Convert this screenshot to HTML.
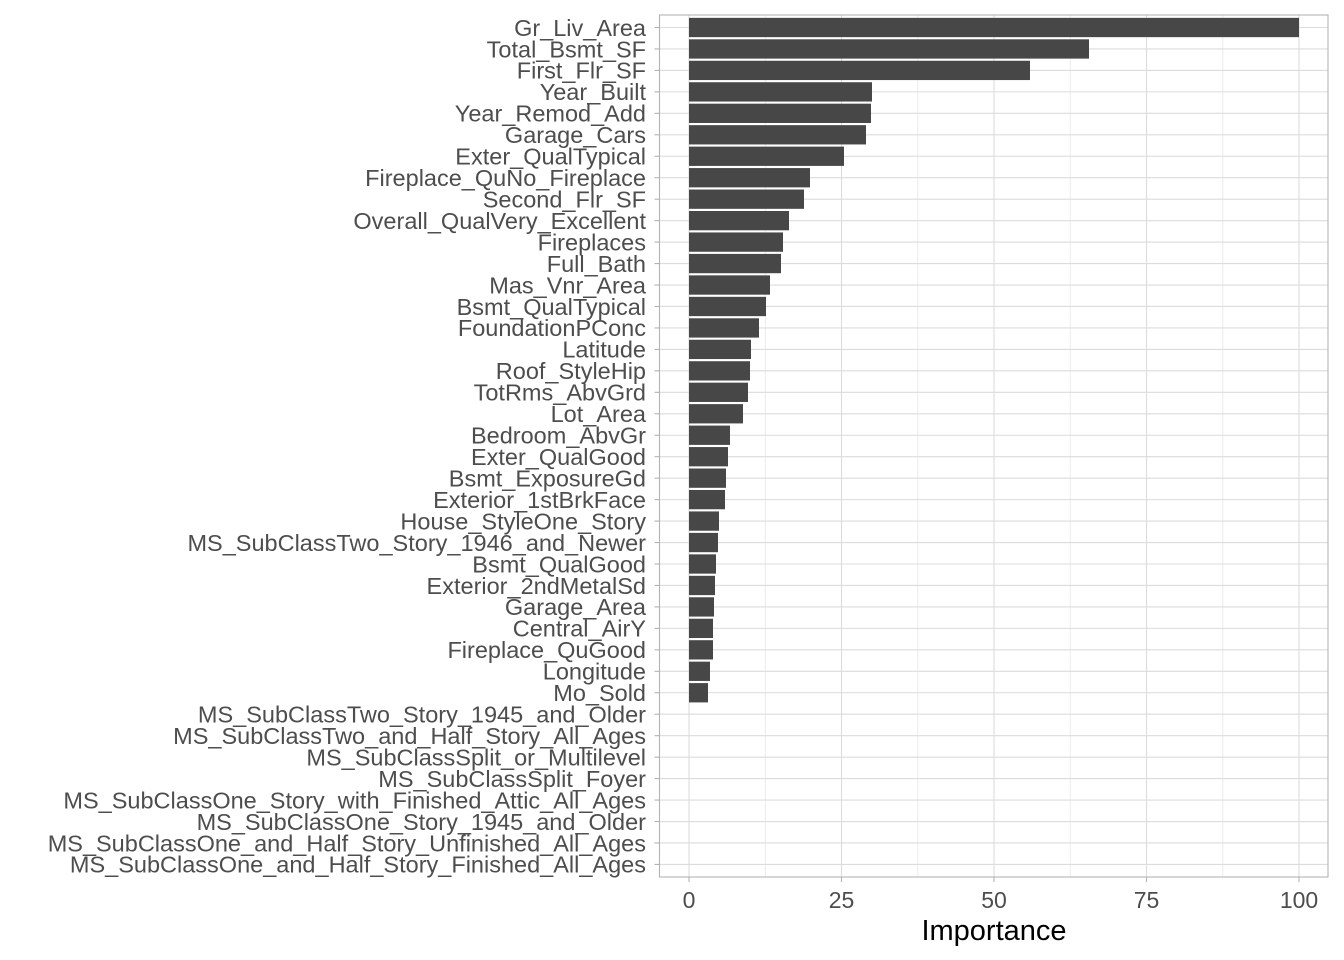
<!DOCTYPE html>
<html><head><meta charset="utf-8"><style>
html,body{margin:0;padding:0;background:#fff}
svg{display:block}
text{font-family:"Liberation Sans",Arial,sans-serif}
</style></head><body>
<svg width="1344" height="960" xmlns="http://www.w3.org/2000/svg">
<rect x="659.5" y="15" width="668.5" height="862" fill="#fff"/>
<g stroke="#ebebeb" stroke-width="1">
<line x1="765.3" y1="15" x2="765.3" y2="877"/><line x1="917.8" y1="15" x2="917.8" y2="877"/><line x1="1070.3" y1="15" x2="1070.3" y2="877"/><line x1="1222.8" y1="15" x2="1222.8" y2="877"/>
</g>
<g stroke="#dcdcdc" stroke-width="1.1">
<line x1="689" y1="15" x2="689" y2="877"/><line x1="841.5" y1="15" x2="841.5" y2="877"/><line x1="994" y1="15" x2="994" y2="877"/><line x1="1146.5" y1="15" x2="1146.5" y2="877"/><line x1="1299" y1="15" x2="1299" y2="877"/>
</g>
<g stroke="#dcdcdc" stroke-width="1.1">
<line x1="659.5" x2="1328" y1="27.5" y2="27.5"/><line x1="659.5" x2="1328" y1="48.96" y2="48.96"/><line x1="659.5" x2="1328" y1="70.42" y2="70.42"/><line x1="659.5" x2="1328" y1="91.88" y2="91.88"/><line x1="659.5" x2="1328" y1="113.34" y2="113.34"/><line x1="659.5" x2="1328" y1="134.8" y2="134.8"/><line x1="659.5" x2="1328" y1="156.26" y2="156.26"/><line x1="659.5" x2="1328" y1="177.72" y2="177.72"/><line x1="659.5" x2="1328" y1="199.18" y2="199.18"/><line x1="659.5" x2="1328" y1="220.64" y2="220.64"/><line x1="659.5" x2="1328" y1="242.1" y2="242.1"/><line x1="659.5" x2="1328" y1="263.56" y2="263.56"/><line x1="659.5" x2="1328" y1="285.02" y2="285.02"/><line x1="659.5" x2="1328" y1="306.48" y2="306.48"/><line x1="659.5" x2="1328" y1="327.94" y2="327.94"/><line x1="659.5" x2="1328" y1="349.4" y2="349.4"/><line x1="659.5" x2="1328" y1="370.86" y2="370.86"/><line x1="659.5" x2="1328" y1="392.32" y2="392.32"/><line x1="659.5" x2="1328" y1="413.78" y2="413.78"/><line x1="659.5" x2="1328" y1="435.24" y2="435.24"/><line x1="659.5" x2="1328" y1="456.7" y2="456.7"/><line x1="659.5" x2="1328" y1="478.16" y2="478.16"/><line x1="659.5" x2="1328" y1="499.62" y2="499.62"/><line x1="659.5" x2="1328" y1="521.08" y2="521.08"/><line x1="659.5" x2="1328" y1="542.54" y2="542.54"/><line x1="659.5" x2="1328" y1="564" y2="564"/><line x1="659.5" x2="1328" y1="585.46" y2="585.46"/><line x1="659.5" x2="1328" y1="606.92" y2="606.92"/><line x1="659.5" x2="1328" y1="628.38" y2="628.38"/><line x1="659.5" x2="1328" y1="649.84" y2="649.84"/><line x1="659.5" x2="1328" y1="671.3" y2="671.3"/><line x1="659.5" x2="1328" y1="692.76" y2="692.76"/><line x1="659.5" x2="1328" y1="714.22" y2="714.22"/><line x1="659.5" x2="1328" y1="735.68" y2="735.68"/><line x1="659.5" x2="1328" y1="757.14" y2="757.14"/><line x1="659.5" x2="1328" y1="778.6" y2="778.6"/><line x1="659.5" x2="1328" y1="800.06" y2="800.06"/><line x1="659.5" x2="1328" y1="821.52" y2="821.52"/><line x1="659.5" x2="1328" y1="842.98" y2="842.98"/><line x1="659.5" x2="1328" y1="864.44" y2="864.44"/>
</g>
<g fill="#474747">
<rect x="689" y="17.85" width="610" height="19.3"/>
<rect x="689" y="39.31" width="400" height="19.3"/>
<rect x="689" y="60.77" width="341" height="19.3"/>
<rect x="689" y="82.23" width="183" height="19.3"/>
<rect x="689" y="103.69" width="182" height="19.3"/>
<rect x="689" y="125.15" width="177" height="19.3"/>
<rect x="689" y="146.61" width="155" height="19.3"/>
<rect x="689" y="168.07" width="121" height="19.3"/>
<rect x="689" y="189.53" width="115" height="19.3"/>
<rect x="689" y="210.99" width="100" height="19.3"/>
<rect x="689" y="232.45" width="94" height="19.3"/>
<rect x="689" y="253.91" width="92" height="19.3"/>
<rect x="689" y="275.37" width="81" height="19.3"/>
<rect x="689" y="296.83" width="77" height="19.3"/>
<rect x="689" y="318.29" width="70" height="19.3"/>
<rect x="689" y="339.75" width="62" height="19.3"/>
<rect x="689" y="361.21" width="61" height="19.3"/>
<rect x="689" y="382.67" width="59" height="19.3"/>
<rect x="689" y="404.13" width="54" height="19.3"/>
<rect x="689" y="425.59" width="41" height="19.3"/>
<rect x="689" y="447.05" width="39" height="19.3"/>
<rect x="689" y="468.51" width="37" height="19.3"/>
<rect x="689" y="489.97" width="36" height="19.3"/>
<rect x="689" y="511.43" width="30" height="19.3"/>
<rect x="689" y="532.89" width="29" height="19.3"/>
<rect x="689" y="554.35" width="27" height="19.3"/>
<rect x="689" y="575.81" width="26" height="19.3"/>
<rect x="689" y="597.27" width="25" height="19.3"/>
<rect x="689" y="618.73" width="24" height="19.3"/>
<rect x="689" y="640.19" width="24" height="19.3"/>
<rect x="689" y="661.65" width="21" height="19.3"/>
<rect x="689" y="683.11" width="19" height="19.3"/>
</g>
<rect x="659.5" y="15" width="668.5" height="862" fill="none" stroke="#b3b3b3" stroke-width="1.1"/>
<g stroke="#b3b3b3" stroke-width="1.1">
<line x1="689" y1="877" x2="689" y2="882"/><line x1="841.5" y1="877" x2="841.5" y2="882"/><line x1="994" y1="877" x2="994" y2="882"/><line x1="1146.5" y1="877" x2="1146.5" y2="882"/><line x1="1299" y1="877" x2="1299" y2="882"/>
</g>
<g stroke="#b3b3b3" stroke-width="1.1">
<line x1="654.5" x2="659.5" y1="27.5" y2="27.5"/><line x1="654.5" x2="659.5" y1="48.96" y2="48.96"/><line x1="654.5" x2="659.5" y1="70.42" y2="70.42"/><line x1="654.5" x2="659.5" y1="91.88" y2="91.88"/><line x1="654.5" x2="659.5" y1="113.34" y2="113.34"/><line x1="654.5" x2="659.5" y1="134.8" y2="134.8"/><line x1="654.5" x2="659.5" y1="156.26" y2="156.26"/><line x1="654.5" x2="659.5" y1="177.72" y2="177.72"/><line x1="654.5" x2="659.5" y1="199.18" y2="199.18"/><line x1="654.5" x2="659.5" y1="220.64" y2="220.64"/><line x1="654.5" x2="659.5" y1="242.1" y2="242.1"/><line x1="654.5" x2="659.5" y1="263.56" y2="263.56"/><line x1="654.5" x2="659.5" y1="285.02" y2="285.02"/><line x1="654.5" x2="659.5" y1="306.48" y2="306.48"/><line x1="654.5" x2="659.5" y1="327.94" y2="327.94"/><line x1="654.5" x2="659.5" y1="349.4" y2="349.4"/><line x1="654.5" x2="659.5" y1="370.86" y2="370.86"/><line x1="654.5" x2="659.5" y1="392.32" y2="392.32"/><line x1="654.5" x2="659.5" y1="413.78" y2="413.78"/><line x1="654.5" x2="659.5" y1="435.24" y2="435.24"/><line x1="654.5" x2="659.5" y1="456.7" y2="456.7"/><line x1="654.5" x2="659.5" y1="478.16" y2="478.16"/><line x1="654.5" x2="659.5" y1="499.62" y2="499.62"/><line x1="654.5" x2="659.5" y1="521.08" y2="521.08"/><line x1="654.5" x2="659.5" y1="542.54" y2="542.54"/><line x1="654.5" x2="659.5" y1="564" y2="564"/><line x1="654.5" x2="659.5" y1="585.46" y2="585.46"/><line x1="654.5" x2="659.5" y1="606.92" y2="606.92"/><line x1="654.5" x2="659.5" y1="628.38" y2="628.38"/><line x1="654.5" x2="659.5" y1="649.84" y2="649.84"/><line x1="654.5" x2="659.5" y1="671.3" y2="671.3"/><line x1="654.5" x2="659.5" y1="692.76" y2="692.76"/><line x1="654.5" x2="659.5" y1="714.22" y2="714.22"/><line x1="654.5" x2="659.5" y1="735.68" y2="735.68"/><line x1="654.5" x2="659.5" y1="757.14" y2="757.14"/><line x1="654.5" x2="659.5" y1="778.6" y2="778.6"/><line x1="654.5" x2="659.5" y1="800.06" y2="800.06"/><line x1="654.5" x2="659.5" y1="821.52" y2="821.52"/><line x1="654.5" x2="659.5" y1="842.98" y2="842.98"/><line x1="654.5" x2="659.5" y1="864.44" y2="864.44"/>
</g>
<g fill="#4d4d4d" font-size="23.5" text-anchor="end">
<text x="646" y="35.8">Gr_Liv_Area</text>
<text x="646" y="57.26">Total_Bsmt_SF</text>
<text x="646" y="78.72">First_Flr_SF</text>
<text x="646" y="100.18">Year_Built</text>
<text x="646" y="121.64">Year_Remod_Add</text>
<text x="646" y="143.1">Garage_Cars</text>
<text x="646" y="164.56">Exter_QualTypical</text>
<text x="646" y="186.02">Fireplace_QuNo_Fireplace</text>
<text x="646" y="207.48">Second_Flr_SF</text>
<text x="646" y="228.94">Overall_QualVery_Excellent</text>
<text x="646" y="250.4">Fireplaces</text>
<text x="646" y="271.86">Full_Bath</text>
<text x="646" y="293.32">Mas_Vnr_Area</text>
<text x="646" y="314.78">Bsmt_QualTypical</text>
<text x="646" y="336.24">FoundationPConc</text>
<text x="646" y="357.7">Latitude</text>
<text x="646" y="379.16">Roof_StyleHip</text>
<text x="646" y="400.62">TotRms_AbvGrd</text>
<text x="646" y="422.08">Lot_Area</text>
<text x="646" y="443.54">Bedroom_AbvGr</text>
<text x="646" y="465">Exter_QualGood</text>
<text x="646" y="486.46">Bsmt_ExposureGd</text>
<text x="646" y="507.92">Exterior_1stBrkFace</text>
<text x="646" y="529.38">House_StyleOne_Story</text>
<text x="646" y="550.84">MS_SubClassTwo_Story_1946_and_Newer</text>
<text x="646" y="572.3">Bsmt_QualGood</text>
<text x="646" y="593.76">Exterior_2ndMetalSd</text>
<text x="646" y="615.22">Garage_Area</text>
<text x="646" y="636.68">Central_AirY</text>
<text x="646" y="658.14">Fireplace_QuGood</text>
<text x="646" y="679.6">Longitude</text>
<text x="646" y="701.06">Mo_Sold</text>
<text x="646" y="722.52">MS_SubClassTwo_Story_1945_and_Older</text>
<text x="646" y="743.98">MS_SubClassTwo_and_Half_Story_All_Ages</text>
<text x="646" y="765.44">MS_SubClassSplit_or_Multilevel</text>
<text x="646" y="786.9">MS_SubClassSplit_Foyer</text>
<text x="646" y="808.36">MS_SubClassOne_Story_with_Finished_Attic_All_Ages</text>
<text x="646" y="829.82">MS_SubClassOne_Story_1945_and_Older</text>
<text x="646" y="851.28">MS_SubClassOne_and_Half_Story_Unfinished_All_Ages</text>
<text x="646" y="872.74">MS_SubClassOne_and_Half_Story_Finished_All_Ages</text>
</g>
<g fill="#4d4d4d" font-size="23" text-anchor="middle">
<text x="689" y="908">0</text>
<text x="841.5" y="908">25</text>
<text x="994" y="908">50</text>
<text x="1146.5" y="908">75</text>
<text x="1299" y="908">100</text>
</g>
<text x="994" y="940" font-size="29" text-anchor="middle" fill="#000">Importance</text>
</svg>
</body></html>
